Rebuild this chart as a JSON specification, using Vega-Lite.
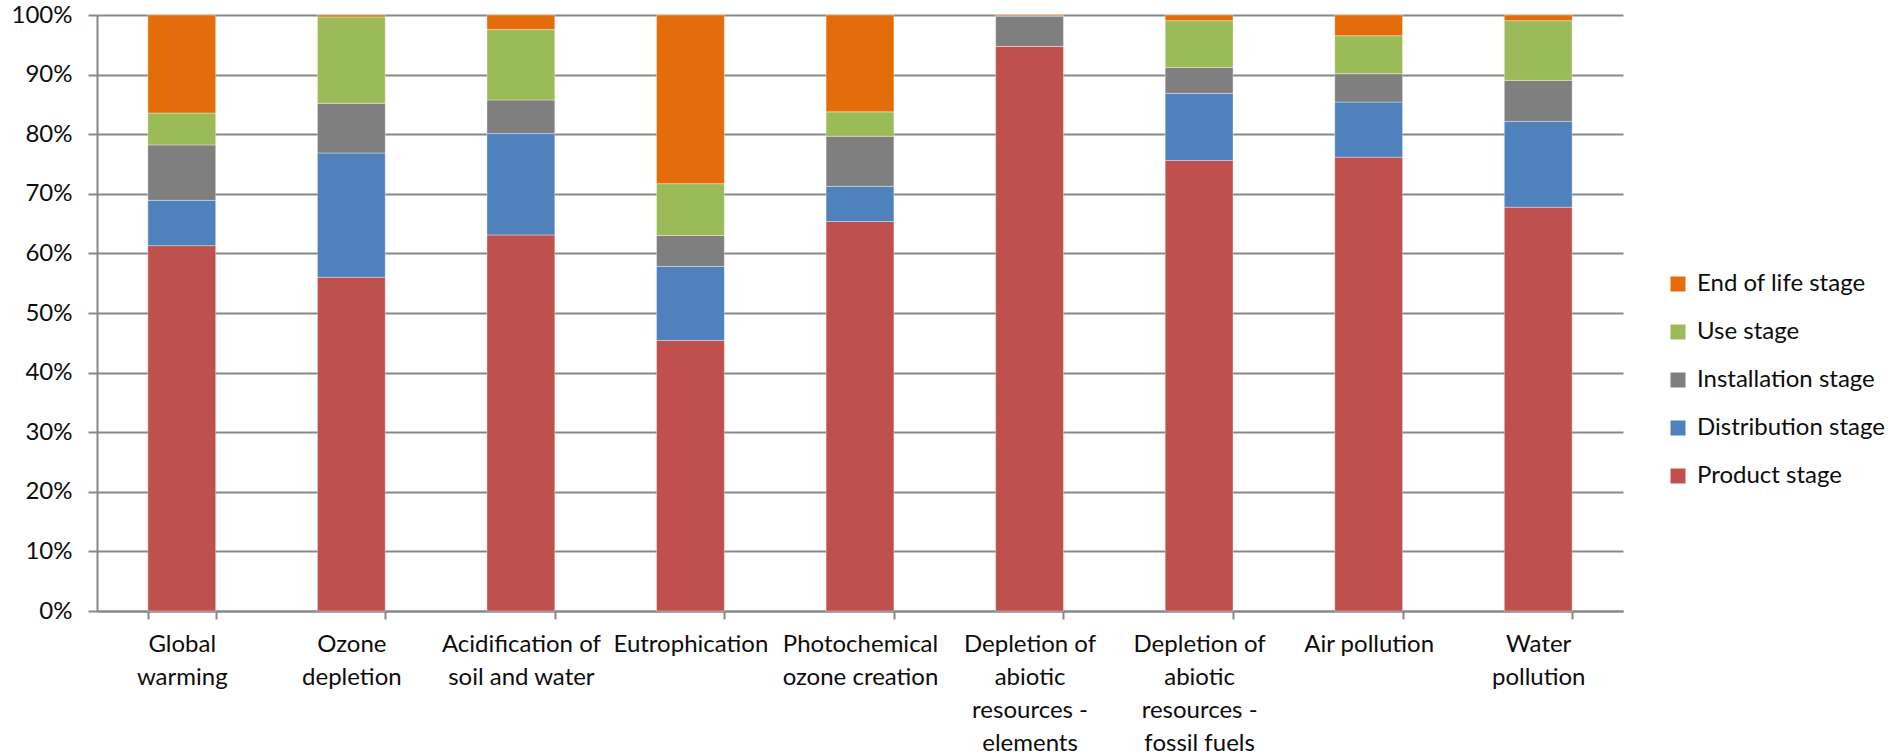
{
  "$schema": "https://vega.github.io/schema/vega-lite/v6.json",
  "autosize": "none",
  "width": 1526,
  "height": 596,
  "padding": {"left": 97, "top": 15, "right": 273, "bottom": 144},
  "background": "white",
  "config": {
    "view": {"stroke": null},
    "font": "Lato",
    "axis": {
      "labelFont": "Lato",
      "labelFontSize": 24,
      "labelColor": "#0D0D0D",
      "domainColor": "#878787",
      "domainWidth": 2,
      "tickColor": "#878787",
      "tickWidth": 2,
      "gridColor": "#878787",
      "gridWidth": 2
    },
    "legend": {
      "labelFont": "Lato",
      "labelFontSize": 24,
      "labelColor": "#0D0D0D",
      "labelLimit": 400
    }
  },
  "data": {
    "values": [
      {"category": "Global warming", "stage": "Product stage", "share": 61.3},
      {"category": "Global warming", "stage": "Distribution stage", "share": 7.6},
      {"category": "Global warming", "stage": "Installation stage", "share": 9.3},
      {"category": "Global warming", "stage": "Use stage", "share": 5.35},
      {"category": "Global warming", "stage": "End of life stage", "share": 16.45},
      {"category": "Ozone depletion", "stage": "Product stage", "share": 56.0},
      {"category": "Ozone depletion", "stage": "Distribution stage", "share": 20.85},
      {"category": "Ozone depletion", "stage": "Installation stage", "share": 8.33},
      {"category": "Ozone depletion", "stage": "Use stage", "share": 14.5},
      {"category": "Ozone depletion", "stage": "End of life stage", "share": 0.32},
      {"category": "Acidification of soil and water", "stage": "Product stage", "share": 63.1},
      {"category": "Acidification of soil and water", "stage": "Distribution stage", "share": 17.0},
      {"category": "Acidification of soil and water", "stage": "Installation stage", "share": 5.65},
      {"category": "Acidification of soil and water", "stage": "Use stage", "share": 11.8},
      {"category": "Acidification of soil and water", "stage": "End of life stage", "share": 2.45},
      {"category": "Eutrophication", "stage": "Product stage", "share": 45.4},
      {"category": "Eutrophication", "stage": "Distribution stage", "share": 12.4},
      {"category": "Eutrophication", "stage": "Installation stage", "share": 5.2},
      {"category": "Eutrophication", "stage": "Use stage", "share": 8.7},
      {"category": "Eutrophication", "stage": "End of life stage", "share": 28.3},
      {"category": "Photochemical ozone creation", "stage": "Product stage", "share": 65.35},
      {"category": "Photochemical ozone creation", "stage": "Distribution stage", "share": 5.9},
      {"category": "Photochemical ozone creation", "stage": "Installation stage", "share": 8.4},
      {"category": "Photochemical ozone creation", "stage": "Use stage", "share": 4.1},
      {"category": "Photochemical ozone creation", "stage": "End of life stage", "share": 16.25},
      {"category": "Depletion of abiotic resources - elements", "stage": "Product stage", "share": 94.73},
      {"category": "Depletion of abiotic resources - elements", "stage": "Distribution stage", "share": 0},
      {"category": "Depletion of abiotic resources - elements", "stage": "Installation stage", "share": 5.12},
      {"category": "Depletion of abiotic resources - elements", "stage": "Use stage", "share": 0},
      {"category": "Depletion of abiotic resources - elements", "stage": "End of life stage", "share": 0.15},
      {"category": "Depletion of abiotic resources - fossil fuels", "stage": "Product stage", "share": 75.6},
      {"category": "Depletion of abiotic resources - fossil fuels", "stage": "Distribution stage", "share": 11.25},
      {"category": "Depletion of abiotic resources - fossil fuels", "stage": "Installation stage", "share": 4.35},
      {"category": "Depletion of abiotic resources - fossil fuels", "stage": "Use stage", "share": 7.85},
      {"category": "Depletion of abiotic resources - fossil fuels", "stage": "End of life stage", "share": 0.95},
      {"category": "Air pollution", "stage": "Product stage", "share": 76.15},
      {"category": "Air pollution", "stage": "Distribution stage", "share": 9.25},
      {"category": "Air pollution", "stage": "Installation stage", "share": 4.75},
      {"category": "Air pollution", "stage": "Use stage", "share": 6.38},
      {"category": "Air pollution", "stage": "End of life stage", "share": 3.47},
      {"category": "Water pollution", "stage": "Product stage", "share": 67.75},
      {"category": "Water pollution", "stage": "Distribution stage", "share": 14.4},
      {"category": "Water pollution", "stage": "Installation stage", "share": 6.88},
      {"category": "Water pollution", "stage": "Use stage", "share": 10.02},
      {"category": "Water pollution", "stage": "End of life stage", "share": 0.95}
    ]
  },
  "transform": [
    {
      "calculate": "indexof(['Product stage', 'Distribution stage', 'Installation stage', 'Use stage', 'End of life stage'], datum.stage)",
      "as": "stackOrder"
    }
  ],
  "mark": {"type": "bar", "stroke": "white", "strokeWidth": 0.6, "strokeOpacity": 0.6},
  "encoding": {
    "x": {
      "field": "category",
      "type": "nominal",
      "sort": null,
      "scale": {"paddingInner": 0.6, "paddingOuter": 0.3},
      "axis": {
        "title": null,
        "labelAngle": 0,
        "labelAlign": "center",
        "labelBaseline": "top",
        "labelLineHeight": 33,
        "labelPadding": 13,
        "tickSize": 8,
        "tickBand": "extent",
        "labelExpr": "{'Global warming': ['Global', 'warming'], 'Ozone depletion': ['Ozone', 'depletion'], 'Acidification of soil and water': ['Acidification of', 'soil and water'], 'Eutrophication': ['Eutrophication'], 'Photochemical ozone creation': ['Photochemical', 'ozone creation'], 'Depletion of abiotic resources - elements': ['Depletion of', 'abiotic', 'resources -', 'elements'], 'Depletion of abiotic resources - fossil fuels': ['Depletion of', 'abiotic', 'resources -', 'fossil fuels'], 'Air pollution': ['Air pollution'], 'Water pollution': ['Water', 'pollution']}[datum.label]"
      }
    },
    "y": {
      "field": "share",
      "type": "quantitative",
      "aggregate": "sum",
      "stack": "zero",
      "scale": {"domain": [0, 100], "nice": false},
      "axis": {
        "title": null,
        "values": [0, 10, 20, 30, 40, 50, 60, 70, 80, 90, 100],
        "labelExpr": "datum.value + '%'",
        "tickSize": 9,
        "labelPadding": 16,
        "grid": true
      }
    },
    "color": {
      "field": "stage",
      "type": "nominal",
      "scale": {
        "domain": ["End of life stage", "Use stage", "Installation stage", "Distribution stage", "Product stage"],
        "range": ["#E46C0A", "#9BBB59", "#7F7F7F", "#4F81BD", "#C0504D"]
      },
      "legend": {
        "title": null,
        "orient": "none",
        "legendX": 1569,
        "legendY": 257,
        "symbolType": "square",
        "symbolSize": 225,
        "symbolStrokeWidth": 0,
        "labelOffset": 7,
        "rowPadding": 24
      }
    },
    "order": {"field": "stackOrder", "type": "quantitative", "sort": "ascending"}
  }
}
